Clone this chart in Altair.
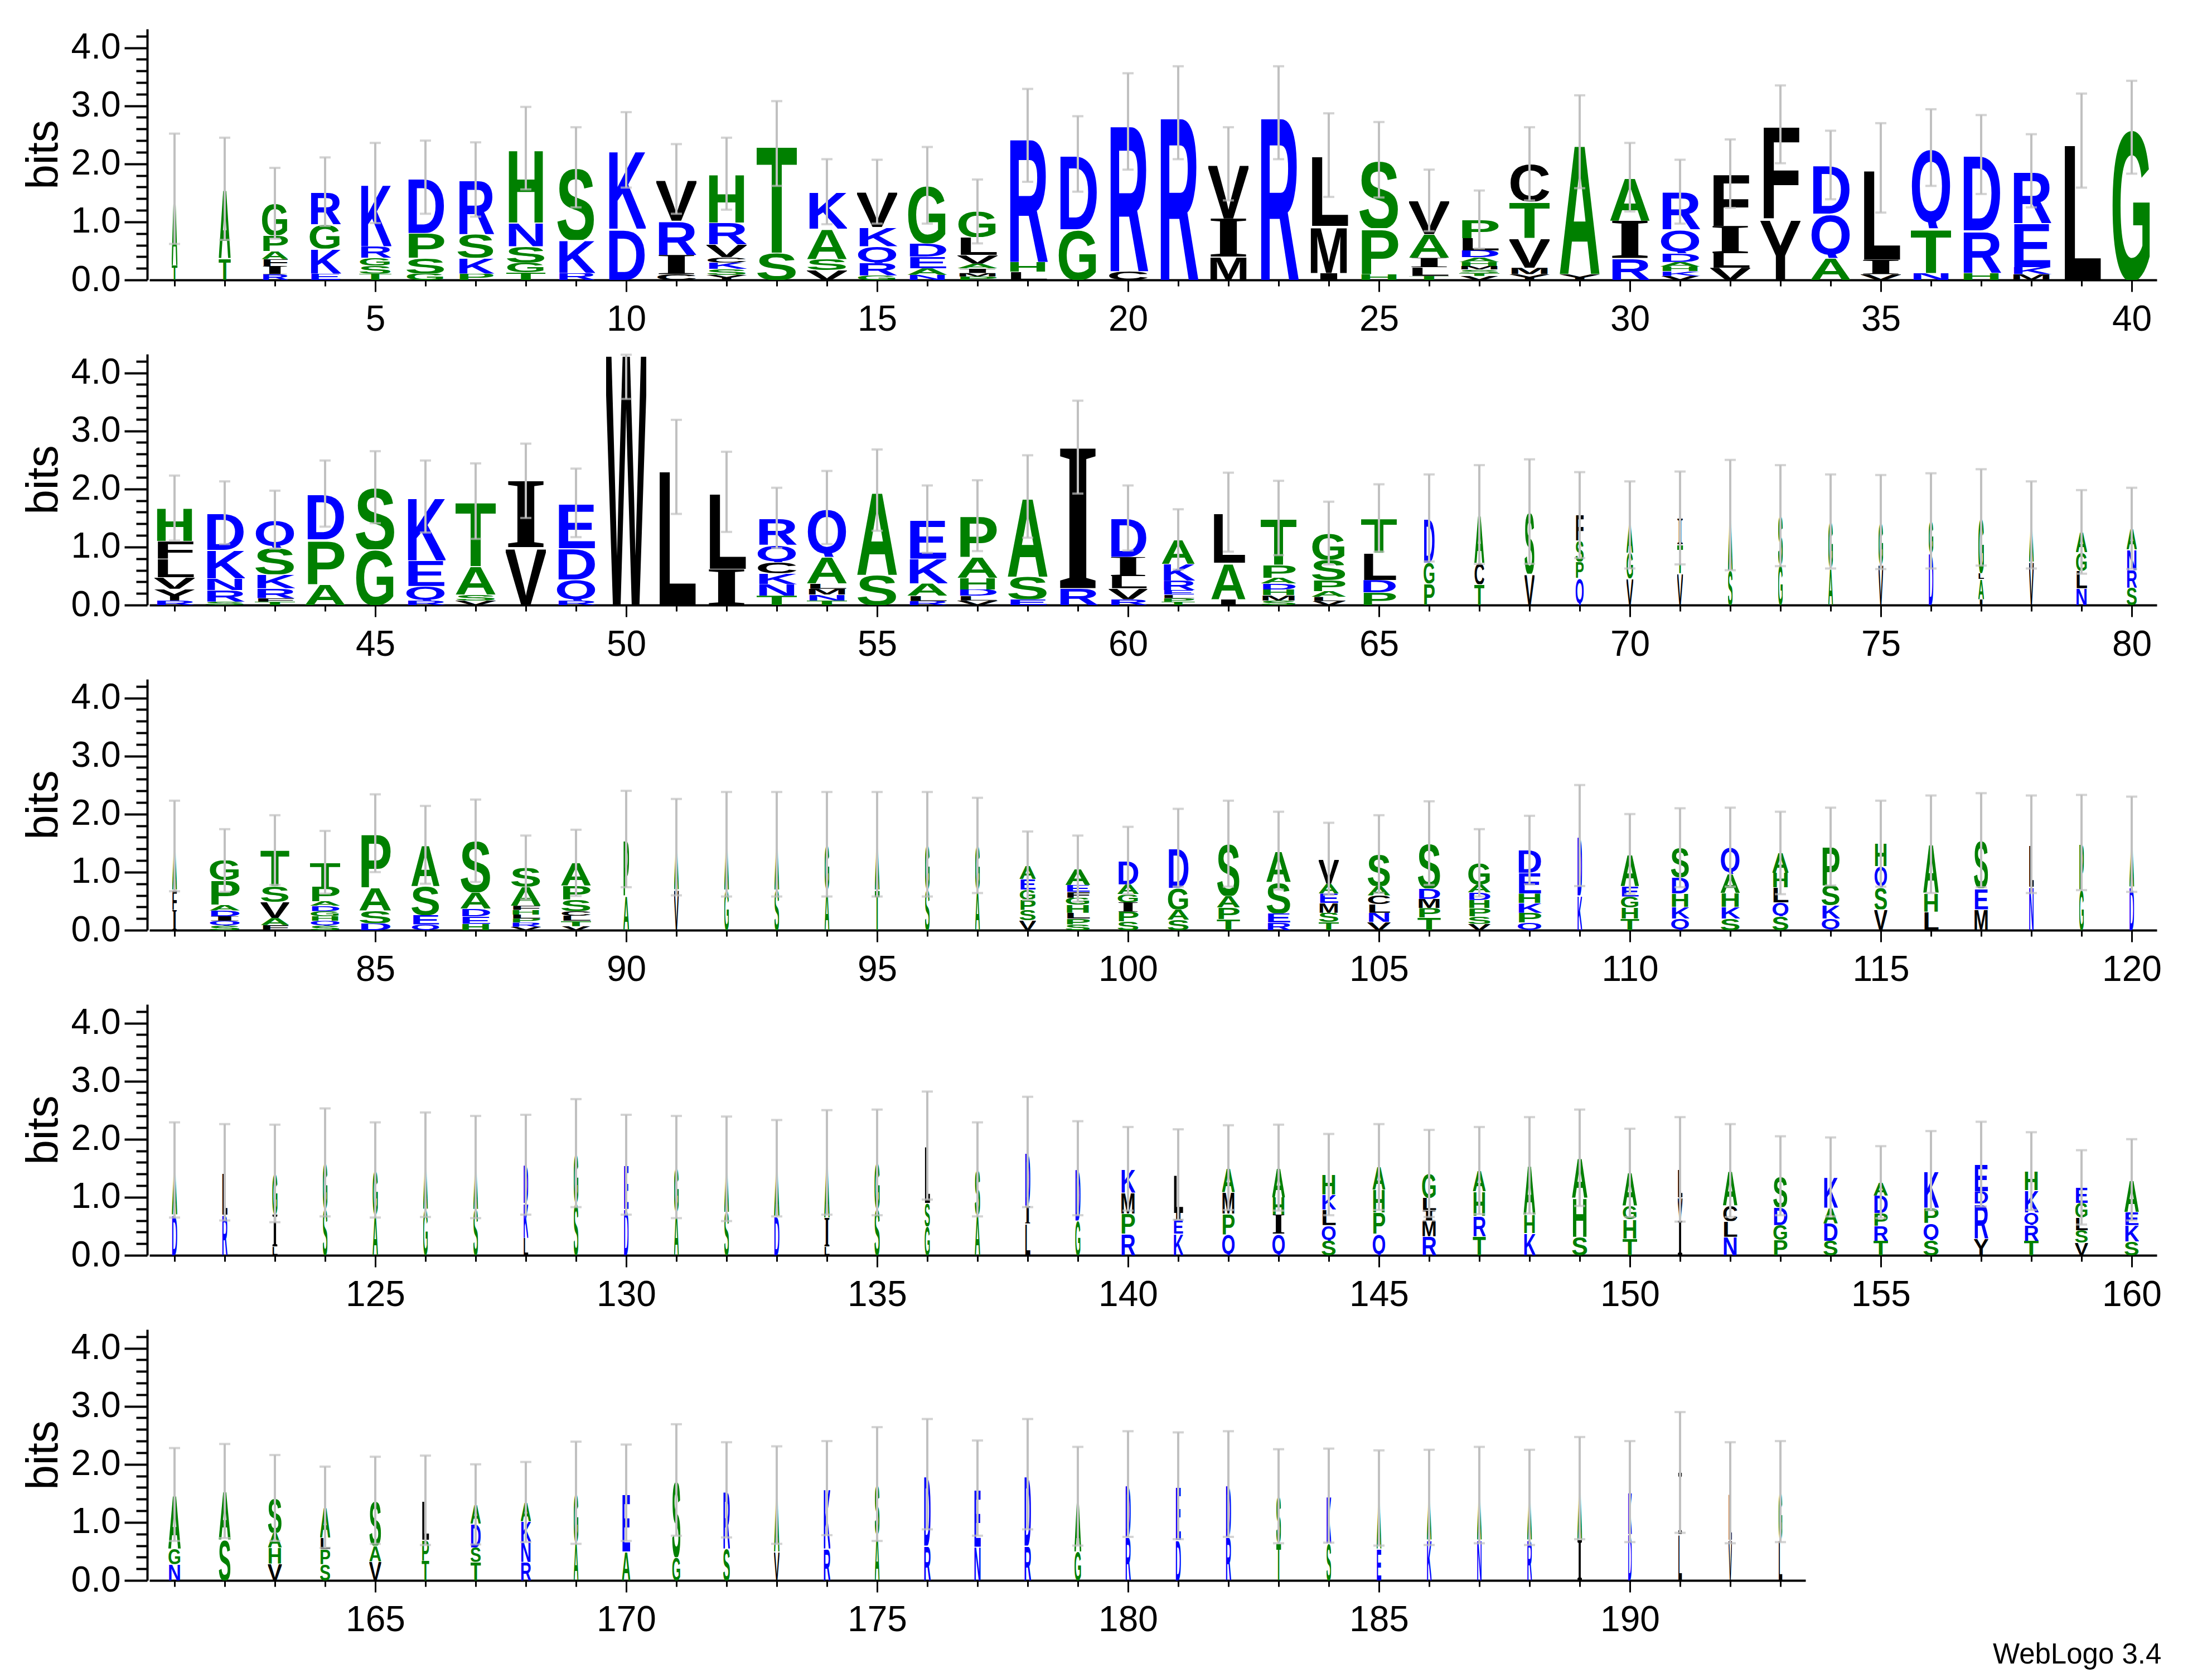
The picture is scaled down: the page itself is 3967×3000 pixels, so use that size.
import base64
import altair as alt
import pandas as pd

# ---------------- data (read from the reference logo) ----------------
# letters of each stack, bottom -> top
LETTERS = [
    "TA", "TA", "RIFAPG", "EKGR", "TSGRK", "GSPD", "PKSR", "TGSNH", "RKS", "DK",
    "CIRV", "YSKCVRH", "ST", "VSAK", "GRQKV", "NAEDG", "PMIAVLG", "LHR", "GD", "CR",
    "R", "MIV", "R", "IML", "HPS", "TLIAV", "VTSMHADLP", "YMVTC", "YA", "RIA",
    "VKHADQR", "VLIF", "YF", "AQD", "VIL", "NTQ", "HRD", "MKER", "L", "G",
    "RYVLFH", "SRNKD", "TFRKSQ", "APD", "GS", "RQEK", "VSAT", "VI", "RQDE", "W",
    "L", "IL", "TNKCQR", "TNMLAQ", "SA", "RLAKE", "VLDHAP", "ESA", "RI", "RVLID",
    "TPLERKA", "IAL", "SMHDAPT", "VLAPSG", "PDLT", "PGD", "TCA", "VS", "QPSF", "VGA",
    "VTI", "SA", "GS", "AG", "VG", "DG", "IALG", "VA", "NLGA", "SRNA",
    "IFA", "SQIDAPG", "FAVST", "SQHGDAPT", "DSAP", "QESA", "HEDAS", "VRPLHFAS", "VTLCSPA", "AP",
    "VA", "GA", "SA", "AG", "TA", "SG", "AG", "VSPGEA", "SPLHGFEA", "SPIGAD",
    "SAGD", "TPAS", "RESA", "TSMEAV", "VNLCAS", "TPMDS", "VSPHDAG", "QPKHED", "KD", "THGEA",
    "QKHDS", "SKHAQ", "SQLHA", "QKSP", "VSQH", "LHA", "MES", "NL", "GP", "DA",
    "DA", "RL", "LIG", "SG", "AG", "GA", "SA", "LKD", "SG", "DE",
    "AG", "SA", "DA", "LIA", "SG", "GSL", "AS", "LID", "GD", "RPMK",
    "KEIL", "QPMA", "QIHA", "SQLKH", "QPHA", "RMILG", "TRHA", "KHA", "SHA", "THGA",
    "IVL", "NLCA", "PGDS", "SDAK", "TRPDA", "SQPK", "YRDE", "TRQKH", "VSLGE", "SKEA",
    "NGA", "SA", "VHAS", "SPLA", "VAS", "TPL", "TSDA", "RNKA", "AG", "AE",
    "GS", "SR", "VA", "RK", "AS", "RD", "NE", "RD", "GA", "RD",
    "DE", "RD", "TS", "SK", "EA", "KA", "NA", "RA", "IA", "DK",
    "LI", "VL", "LG",
]

# letter heights in bits, bottom -> top
HEIGHTS = [
    [0.25, 1.32], [0.37, 1.2], [0.10, 0.14, 0.12, 0.14, 0.27, 0.55], [0.11, 0.43, 0.42, 0.56],
    [0.11, 0.14, 0.13, 0.2, 1.09], [0.11, 0.27, 0.43, 0.96], [0.11, 0.27, 0.41, 0.94],
    [0.13, 0.17, 0.28, 0.41, 1.28], [0.12, 0.57, 1.25], [0.88, 1.36],
    [0.1, 0.33, 0.59, 0.72], [0.09, 0.1, 0.11, 0.09, 0.22, 0.38, 0.84], [0.47, 1.88],
    [0.17, 0.19, 0.52, 0.64], [0.08, 0.21, 0.29, 0.33, 0.61], [0.09, 0.11, 0.2, 0.23, 1.0],
    [0.06, 0.06, 0.08, 0.08, 0.15, 0.31, 0.44], [0.14, 0.17, 2.18], [0.87, 1.3], [0.15, 2.58],
    [2.88], [0.4, 0.66, 0.94], [2.88], [0.12, 0.81, 1.22], [0.1, 0.79, 1.18],
    [0.07, 0.15, 0.16, 0.41, 0.58], [0.07, 0.05, 0.06, 0.06, 0.07, 0.08, 0.12, 0.21, 0.32],
    [0.1, 0.11, 0.51, 0.63, 0.65], [0.1, 2.28], [0.37, 0.65, 0.75],
    [0.07, 0.08, 0.08, 0.08, 0.15, 0.41, 0.65], [0.21, 0.25, 0.47, 0.9], [1.06, 1.62],
    [0.38, 0.76, 0.84], [0.1, 0.25, 1.58], [0.12, 0.77, 1.39], [0.12, 0.73, 1.31],
    [0.1, 0.12, 0.76, 0.9], [2.4], [2.63],
    [0.08, 0.2, 0.2, 0.32, 0.3, 0.57], [0.06, 0.2, 0.2, 0.49, 0.64], [0.06, 0.06, 0.17, 0.24, 0.46, 0.48],
    [0.36, 0.77, 0.79], [0.96, 1.07], [0.08, 0.25, 0.44, 1.1], [0.08, 0.1, 0.49, 1.12], [1.0, 1.14],
    [0.08, 0.36, 0.54, 0.78], [4.45],
    [2.38], [0.62, 1.33], [0.16, 0.2, 0.19, 0.19, 0.3, 0.46], [0.08, 0.1, 0.1, 0.09, 0.46, 0.85],
    [0.52, 1.46], [0.07, 0.09, 0.21, 0.43, 0.68], [0.08, 0.08, 0.11, 0.2, 0.36, 0.71],
    [0.1, 0.39, 1.38], [0.29, 2.43], [0.1, 0.19, 0.21, 0.33, 0.67],
    [0.06, 0.06, 0.06, 0.08, 0.16, 0.29, 0.42], [0.1, 0.63, 0.87], [0.08, 0.09, 0.1, 0.1, 0.1, 0.22, 0.81],
    [0.07, 0.07, 0.1, 0.19, 0.35, 0.46], [0.22, 0.21, 0.47, 0.6], [0.37, 0.36, 0.77], [0.36, 0.37, 0.83],
    [0.54, 1.07], [0.47, 0.28, 0.36, 0.44], [0.46, 0.44, 0.48],
    [0.55, 0.5, 0.45], [0.6, 0.95], [0.7, 0.84], [0.64, 0.8], [0.7, 0.73], [0.9, 0.55],
    [0.1, 0.35, 0.1, 0.96], [0.75, 0.63], [0.29, 0.3, 0.32, 0.35], [0.3, 0.3, 0.36, 0.36],
    [0.35, 0.35, 0.75], [0.08, 0.08, 0.08, 0.1, 0.1, 0.42, 0.34], [0.09, 0.12, 0.28, 0.27, 0.62],
    [0.08, 0.08, 0.08, 0.09, 0.09, 0.08, 0.25, 0.42], [0.12, 0.22, 0.4, 0.93], [0.1, 0.16, 0.5, 0.71],
    [0.11, 0.13, 0.13, 0.28, 0.89], [0.06, 0.07, 0.07, 0.07, 0.08, 0.07, 0.33, 0.33],
    [0.07, 0.09, 0.09, 0.08, 0.2, 0.24, 0.39], [0.6, 0.97],
    [0.7, 0.73], [0.7, 0.78], [0.7, 0.78], [0.7, 0.78], [0.7, 0.78], [0.7, 0.78], [0.7, 0.76],
    [0.17, 0.18, 0.18, 0.17, 0.18, 0.23], [0.1, 0.1, 0.1, 0.14, 0.12, 0.1, 0.12, 0.28],
    [0.15, 0.17, 0.16, 0.14, 0.17, 0.41],
    [0.18, 0.18, 0.37, 0.69], [0.19, 0.2, 0.2, 0.9], [0.13, 0.16, 0.54, 0.54],
    [0.14, 0.16, 0.17, 0.16, 0.17, 0.43], [0.14, 0.16, 0.15, 0.15, 0.16, 0.55],
    [0.22, 0.16, 0.16, 0.18, 0.78], [0.11, 0.13, 0.14, 0.14, 0.13, 0.14, 0.37],
    [0.13, 0.17, 0.17, 0.16, 0.36, 0.39], [0.6, 1.03], [0.2, 0.19, 0.19, 0.18, 0.55],
    [0.2, 0.2, 0.23, 0.28, 0.51], [0.2, 0.2, 0.24, 0.33, 0.46], [0.24, 0.24, 0.26, 0.25, 0.34],
    [0.2, 0.23, 0.34, 0.67], [0.36, 0.38, 0.36, 0.39], [0.32, 0.32, 0.84], [0.36, 0.36, 0.83],
    [0.75, 0.73], [0.7, 0.81], [0.75, 0.73],
    [0.7, 0.77], [0.7, 0.73], [0.15, 0.55, 0.71], [0.8, 0.8], [0.7, 0.77], [0.8, 0.76], [0.8, 0.72],
    [0.3, 0.6, 0.66], [0.9, 0.86], [0.8, 0.76],
    [0.75, 0.77], [0.75, 0.74], [0.68, 0.82], [0.15, 0.5, 0.95], [0.8, 0.8], [0.5, 0.4, 0.99],
    [0.7, 0.78], [0.55, 0.3, 0.93], [0.6, 0.9], [0.37, 0.35, 0.36, 0.41],
    [0.37, 0.24, 0.12, 0.66], [0.36, 0.36, 0.37, 0.42], [0.37, 0.33, 0.3, 0.51],
    [0.25, 0.27, 0.27, 0.26, 0.34], [0.37, 0.37, 0.39, 0.39], [0.33, 0.27, 0.18, 0.21, 0.42],
    [0.33, 0.35, 0.42, 0.36], [0.38, 0.32, 0.85], [0.32, 0.67, 0.69], [0.29, 0.33, 0.23, 0.57],
    [0.6, 0.4, 0.48], [0.32, 0.27, 0.27, 0.6], [0.27, 0.25, 0.31, 0.54], [0.25, 0.3, 0.27, 0.53],
    [0.25, 0.26, 0.22, 0.3, 0.23], [0.26, 0.3, 0.26, 0.64], [0.29, 0.6, 0.21, 0.47],
    [0.25, 0.27, 0.22, 0.38, 0.33], [0.22, 0.21, 0.22, 0.25, 0.27], [0.24, 0.28, 0.23, 0.55],
    [0.28, 0.27, 0.93], [0.7, 0.84], [0.29, 0.28, 0.25, 0.6], [0.28, 0.26, 0.2, 0.52],
    [0.33, 0.27, 0.78], [0.34, 0.36, 0.68], [0.32, 0.25, 0.41, 0.33], [0.32, 0.34, 0.36, 0.33],
    [0.65, 0.86], [0.5, 1.01],
    [0.4, 1.33], [0.55, 1.01], [0.5, 0.97], [0.55, 1.04], [0.8, 0.86], [0.6, 1.23], [0.58, 1.01],
    [0.6, 1.23], [0.5, 0.95], [0.75, 0.91],
    [0.7, 0.93], [0.75, 0.91], [0.65, 0.8], [0.64, 0.82], [0.55, 0.87], [0.7, 0.73], [0.7, 0.77],
    [0.7, 0.73], [0.7, 0.89], [0.8, 0.73],
    [0.8, 1.06], [0.7, 0.81], [0.7, 0.83],
]

# stack width as a fraction of one position
WIDTHS = [
    .12, .24, .54, .64, .64, .78, .74, .78, .76, .78,
    .8, .8, .8, .8, .8, .8, .8, .8, .8, .8,
    .8, .8, .8, .8, .8, .8, .8, .8, .8, .8,
    .8, .8, .8, .8, .8, .8, .8, .8, .8, .8,
    .8, .8, .8, .8, .8, .8, .8, .8, .8, .8,
    .8, .8, .8, .8, .8, .8, .8, .8, .8, .77,
    .66, .69, .71, .69, .71, .23, .2, .2, .17, .14,
    .12, .1, .1, .1, .1, .1, .12, .1, .23, .21,
    .1, .62, .57, .6, .64, .57, .61, .6, .6, .12,
    .1, .1, .1, .1, .1, .1, .1, .33, .5, .43,
    .43, .46, .49, .4, .46, .46, .46, .49, .1, .37,
    .37, .39, .33, .37, .26, .31, .29, .1, .1, .1,
    .11, .11, .11, .1, .11, .1, .1, .1, .1, .1,
    .1, .1, .11, .11, .11, .11, .11, .11, .11, .29,
    .2, .26, .26, .29, .26, .29, .26, .24, .31, .29,
    .1, .29, .29, .29, .29, .31, .29, .29, .26, .29,
    .25, .24, .28, .21, .24, .15, .21, .21, .1, .17,
    .17, .14, .11, .14, .1, .14, .14, .14, .14, .11,
    .11, .11, .1, .1, .1, .1, .1, .1, .1, .08,
    .08, .07, .08,
]

# half-length of the error bar, bits
ERRORS = [
    .95, .88, .61, .59, .69, .63, .64, .71, .69, .65,
    .6, .62, .73, .56, .55, .66, .55, .8, .65, .83,
    .8, .63, .8, .72, .65, .53, .5, .63, .8, .59,
    .55, .59, .67, .59, .77, .66, .68, .63, .81, .8,
    .56, .54, .5, .57, .62, .62, .65, .64, .59, .9,
    .81, .69, .52, .63, .7, .58, .61, .71, .8, .56,
    .52, .68, .64, .54, .58, .75, .85, .9, .74, .75,
    .8, .95, .87, .81, .81, .82, .83, .75, .72, .7,
    .78, .54, .6, .54, .67, .67, .71, .55, .57, .83,
    .83, .9, .9, .9, .9, .9, .82, .59, .57, .58,
    .67, .74, .67, .62, .67, .72, .58, .59, .87, .69,
    .68, .68, .71, .67, .74, .84, .81, .84, .82, .82,
    .82, .83, .84, .93, .82, .9, .88, .86, .93, .86,
    .88, .9, .83, .9, .91, .93, .81, .95, .81, .72,
    .78, .73, .74, .7, .74, .75, .75, .83, .83, .76,
    .9, .8, .68, .68, .62, .68, .73, .67, .64, .7,
    .8, .81, .74, .7, .75, .77, .69, .69, .88, .83,
    .96, .82, .84, .81, .98, .95, .82, .95, .85, .91,
    .92, .91, .81, .81, .82, .82, .83, .82, .88, .87,
    1.04, .87, .87,
]

ROWS = [(1, 40), (41, 80), (81, 120), (121, 160), (161, 193)]
Y_TICKS = [round(0.2 * i, 1) for i in range(22)]
YMAX = 4.3219

# ---------------- styling ----------------
BLUE, GREEN, BLACK, GREY = "#0000ff", "#008000", "#000000", "#c0c0c0"
COLOR = {}
for c in "RKDENQ":
    COLOR[c] = BLUE
for c in "SGHTAP":
    COLOR[c] = GREEN
for c in "YVMCLFIW":
    COLOR[c] = BLACK
FONT = "Liberation Sans"


def glyph_url(ch):
    if ch == "I":
        fam, top, bottom = "Liberation Serif", 66.2, 0.0
    elif ch == "Q":
        fam, top, bottom = "Liberation Sans", 73.0, 6.0
    else:
        fam, top, bottom = "Liberation Sans", 71.6, 0.0
    h = top + bottom
    svg = (
        f'<svg xmlns="http://www.w3.org/2000/svg" width="94" height="{h}" '
        f'viewBox="3 {-top} 94 {h}" preserveAspectRatio="none">'
        f'<text x="0" y="0" font-family="{fam}" font-weight="bold" font-size="100" '
        f'fill="{COLOR[ch]}" textLength="100" lengthAdjust="spacingAndGlyphs">{ch}</text></svg>'
    )
    return "data:image/svg+xml;base64," + base64.b64encode(svg.encode()).decode()


URLS = {c: glyph_url(c) for c in COLOR}

letter_recs, err_recs, cap_recs = [], [], []
for i, (lets, hs, w, e) in enumerate(zip(LETTERS, HEIGHTS, WIDTHS, ERRORS)):
    pos = i + 1
    base = 0.0
    for ch, h in zip(lets, hs):
        letter_recs.append(dict(pos=pos, x0=pos - w / 2, x1=pos + w / 2,
                                y0=base, y1=base + h, url=URLS[ch]))
        base += h
    lo, hi = base - e, min(base + e, YMAX - 0.01)
    err_recs.append(dict(pos=pos, lo=lo, hi=hi))
    cap_recs.append(dict(pos=pos, v=lo))
    cap_recs.append(dict(pos=pos, v=hi))

letters_df = pd.DataFrame(letter_recs)
err_df = pd.DataFrame(err_recs)
cap_df = pd.DataFrame(cap_recs)

MAJOR_Y = "abs(datum.value - round(datum.value)) < 0.01"
MAJOR_X = "datum.value % 5 == 0"


def y_axis():
    return alt.Axis(
        values=Y_TICKS,
        labelExpr=f"{MAJOR_Y} ? format(datum.value, '.1f') : ''",
        tickSize={"condition": {"test": MAJOR_Y, "value": 41}, "value": 20},
        tickWidth=4, tickColor=BLACK, domainColor=BLACK, domainWidth=4,
        labelFont=FONT, labelFontSize=64, labelColor=BLACK, labelPadding=7,
        labelOverlap=False, labelFlush=False, labelBound=False,
        title="bits", titleFont=FONT, titleFontSize=80, titleFontWeight="normal",
        titleColor=BLACK, titlePadding=8, offset=4, grid=False,
    )


def x_axis(s, e):
    return alt.Axis(
        values=list(range(s, e + 1)),
        labelExpr=f"{MAJOR_X} ? format(datum.value, 'd') : ''",
        tickSize={"condition": {"test": MAJOR_X, "value": 21}, "value": 11},
        tickWidth=3, tickColor=BLACK, domainColor=BLACK, domainWidth=4,
        labelFont=FONT, labelFontSize=64, labelColor=BLACK, labelPadding=18,
        labelOverlap=False, labelFlush=False, title=None, grid=False,
    )


def row_chart(s, e):
    xs = alt.Scale(domain=[s - 0.5, e + 0.5], nice=False, zero=False)
    ys = alt.Scale(domain=[0, YMAX], nice=False, zero=False)
    ld = letters_df[(letters_df.pos >= s) & (letters_df.pos <= e)]
    ed = err_df[(err_df.pos >= s) & (err_df.pos <= e)]
    cd = cap_df[(cap_df.pos >= s) & (cap_df.pos <= e)]
    letters = alt.Chart(ld).mark_image(aspect=False).encode(
        x=alt.X("x0:Q", scale=xs, axis=x_axis(s, e)),
        x2="x1:Q",
        y=alt.Y("y0:Q", scale=ys, axis=y_axis()),
        y2="y1:Q",
        url="url:N",
    )
    bars = alt.Chart(ed).mark_rule(color=GREY, strokeWidth=4).encode(
        x=alt.X("pos:Q", scale=xs, axis=x_axis(s, e)),
        y=alt.Y("lo:Q", scale=ys, axis=y_axis()),
        y2="hi:Q",
    )
    caps = alt.Chart(cd).mark_tick(color=GREY, orient="horizontal", size=20, thickness=4).encode(
        x=alt.X("pos:Q", scale=xs, axis=x_axis(s, e)),
        y=alt.Y("v:Q", scale=ys, axis=y_axis()),
    )
    return alt.layer(letters, bars, caps).properties(width=(e - s + 1) * 90, height=450)


chart = alt.vconcat(
    *[row_chart(s, e) for s, e in ROWS],
    spacing=133,
    bounds="flush",
    title=alt.TitleParams("WebLogo 3.4", orient="bottom", anchor="end", font=FONT,
                          fontSize=51, fontWeight="normal", color=BLACK, offset=6),
    padding={"left": 30, "top": 24, "right": 20, "bottom": 10},
).configure_axis(labelOverlap=False).configure_view(strokeWidth=0)

chart.save("out.html", embed_options={"renderer": "svg", "actions": False})
